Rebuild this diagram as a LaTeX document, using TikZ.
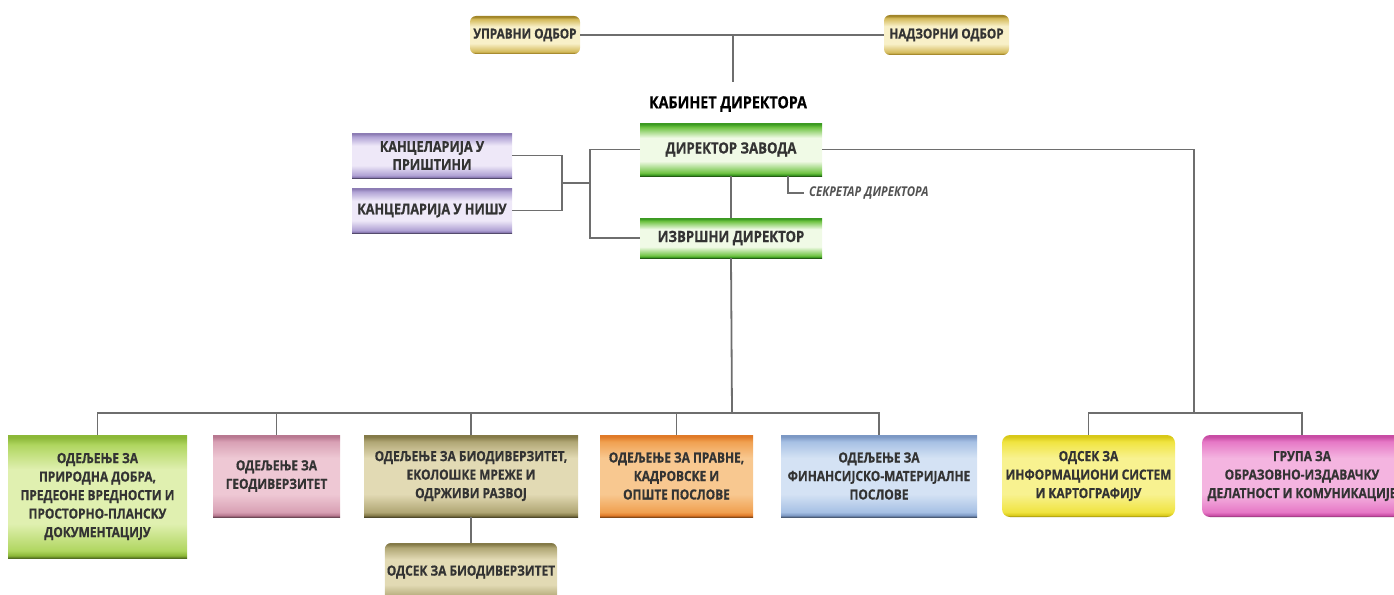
\documentclass[tikz,border=0pt]{standalone}
\usepackage{fontspec}
\setmainfont{Open Sans}[FakeStretch=0.85, BoldFeatures={FakeBold=0.6}]
\definecolor{txt}{HTML}{333333}
\definecolor{lin}{HTML}{6E6E6E}
\newcommand\mkshade[4]{%
  \definecolor{#1D}{HTML}{#2}\definecolor{#1M}{HTML}{#3}\definecolor{#1L}{HTML}{#4}%
  \colorlet{#1B}{#1D!60!black}%
  \pgfdeclareverticalshading{#1sh}{100bp}{color(0bp)=(#1B); color(25bp)=(#1B); color(26bp)=(#1D); color(28bp)=(#1M); color(39bp)=(#1L); color(61bp)=(#1L); color(71bp)=(#1M); color(74bp)=(#1D); color(75bp)=(#1D); color(100bp)=(#1D)}}
\mkshade{gold}{A08428}{D4BA5A}{F8F0C8}
\mkshade{grn}{3C9A22}{70C444}{F0FAE6}
\mkshade{pur}{8C7CB4}{B0A2D4}{EEE8F8}
\mkshade{lime}{8CB838}{B0D660}{E0F0B0}
\mkshade{pink}{B87890}{D8A0B4}{EEC8D4}
\mkshade{oliv}{847A48}{B0A674}{E2DAB4}
\mkshade{orng}{E07A28}{F0A050}{F8C890}
\mkshade{blu}{7C98C4}{A6C0E4}{D4E2F4}
\mkshade{yel}{D8C818}{F0E440}{F8F290}
\mkshade{mag}{C84CA4}{E678C6}{F4B4E0}
\tikzset{
  base/.style={rectangle, inner sep=2pt, align=center, text=txt,
    font=\bfseries\fontsize{14}{18.5}\selectfont},
  goldbox/.style={base, shading=goldsh, rounded corners=6pt,
    font=\bfseries\fontsize{13.8}{18}\selectfont},
  grnbox/.style={base, shading=grnsh, font=\bfseries\fontsize{15.5}{18}\selectfont},
  purbox/.style={base, shading=pursh, minimum width=160pt, minimum height=45pt,
    font=\bfseries\fontsize{14.8}{18}\selectfont},
  dept/.style={base, minimum height=82pt},
  conn/.style={draw=lin, line width=1.8pt},
  kabtext/.style={inner sep=0pt, text=black, font=\bfseries\fontsize{16.8}{18}\selectfont},
  sectext/.style={inner sep=0pt, text=txt!85, font=\bfseries\itshape\fontsize{13.5}{14}\selectfont},
}
\begin{document}
\begin{tikzpicture}[x=1pt,y=-1pt]
\useasboundingbox (0,0) rectangle (1394,594);
% top
\node[goldbox, minimum width=110pt, minimum height=38pt] (upr) at (525,35) {УПРАВНИ ОДБОР};
\node[goldbox, minimum width=125pt, minimum height=40pt] (nad) at (946.5,35) {НАДЗОРНИ ОДБОР};
\node[kabtext] (kab) at (728,104) {КАБИНЕТ ДИРЕКТОРА};
\node[grnbox, minimum width=182pt, minimum height=53pt] (dz) at (731,149.5) {ДИРЕКТОР ЗАВОДА};
\node[grnbox, minimum width=182pt, minimum height=40pt] (iz) at (731,238) {ИЗВРШНИ ДИРЕКТОР};
\node[purbox] (kp) at (432,155.5) {КАНЦЕЛАРИЈА У\\ПРИШТИНИ};
\node[purbox] (kn) at (432,210.5) {КАНЦЕЛАРИЈА У НИШУ};
\node[sectext, anchor=west] (sek) at (809,193) {СЕКРЕТАР ДИРЕКТОРА};
% departments
\node[dept, shading=limesh, minimum width=179pt, minimum height=123pt] (b1) at (97.5,496.5)
  {ОДЕЉЕЊЕ ЗА\\ПРИРОДНА ДОБРА,\\ПРЕДЕОНЕ ВРЕДНОСТИ И\\ПРОСТОРНО-ПЛАНСКУ\\ДОКУМЕНТАЦИЈУ};
\node[dept, shading=pinksh, minimum width=127pt] (b2) at (276.5,476) {ОДЕЉЕЊЕ ЗА\\ГЕОДИВЕРЗИТЕТ};
\node[dept, shading=olivsh, minimum width=214pt] (b3) at (471,476)
  {ОДЕЉЕЊЕ ЗА БИОДИВЕРЗИТЕТ,\\ЕКОЛОШКЕ МРЕЖЕ И\\ОДРЖИВИ РАЗВОЈ};
\node[dept, shading=orngsh, minimum width=153pt] (b4) at (676.5,476)
  {ОДЕЉЕЊЕ ЗА ПРАВНЕ,\\КАДРОВСКЕ И\\ОПШТЕ ПОСЛОВЕ};
\node[dept, shading=blush, minimum width=196pt] (b5) at (879,476)
  {ОДЕЉЕЊЕ ЗА\\ФИНАНСИЈСКО-МАТЕРИЈАЛНЕ\\ПОСЛОВЕ};
\node[dept, shading=yelsh, rounded corners=8pt, minimum width=173pt] (b6) at (1088.5,476)
  {ОДСЕК ЗА\\ИНФОРМАЦИОНИ СИСТЕМ\\И КАРТОГРАФИЈУ};
\node[dept, shading=magsh, rounded corners=8pt, minimum width=200pt] (b7) at (1302,476)
  {ГРУПА ЗА\\ОБРАЗОВНО-ИЗДАВАЧКУ\\ДЕЛАТНОСТ И КОМУНИКАЦИЈЕ};
\node[base, shading=olivsh, rounded corners=6pt, minimum width=172pt, minimum height=58pt] (b8) at (471,572)
  {ОДСЕК ЗА БИОДИВЕРЗИТЕТ};
% junctions
\coordinate (topj) at (733,35);
\coordinate (kabtop) at (733,82);
\coordinate (kj) at (562,183);
\coordinate (lj) at (590,183);
\coordinate (rj) at (1194,413);
\coordinate (bus) at (732,413);
% connectors
\draw[conn] (upr.east) -- (nad.west);
\draw[conn] (topj) -- (kabtop);
\draw[conn] (dz.south) -- (iz.north);
\draw[conn] (kp.east) -- (kp.east -| kj) -- (kn.east -| kj) -- (kn.east);
\draw[conn] (kj) -- (lj);
\draw[conn] (dz.west) -| (lj) |- (iz.west);
\draw[conn] ([xshift=57pt]dz.south) |- ([xshift=-5pt]sek.west);
\draw[conn] (dz.east) -| (rj);
\draw[conn] (b6.north) |- (b7.north |- rj) -- (b7.north);
\draw[conn] (iz.south) -- (bus);
\draw[conn] (b1.north) |- (b5.north |- bus) -- (b5.north);
\draw[conn] (b2.north) -- (b2.north |- bus);
\draw[conn] (b3.north) -- (b3.north |- bus);
\draw[conn] (b4.north) -- (b4.north |- bus);
\draw[conn] (b3.south) -- (b8.north);
\end{tikzpicture}
\end{document}
